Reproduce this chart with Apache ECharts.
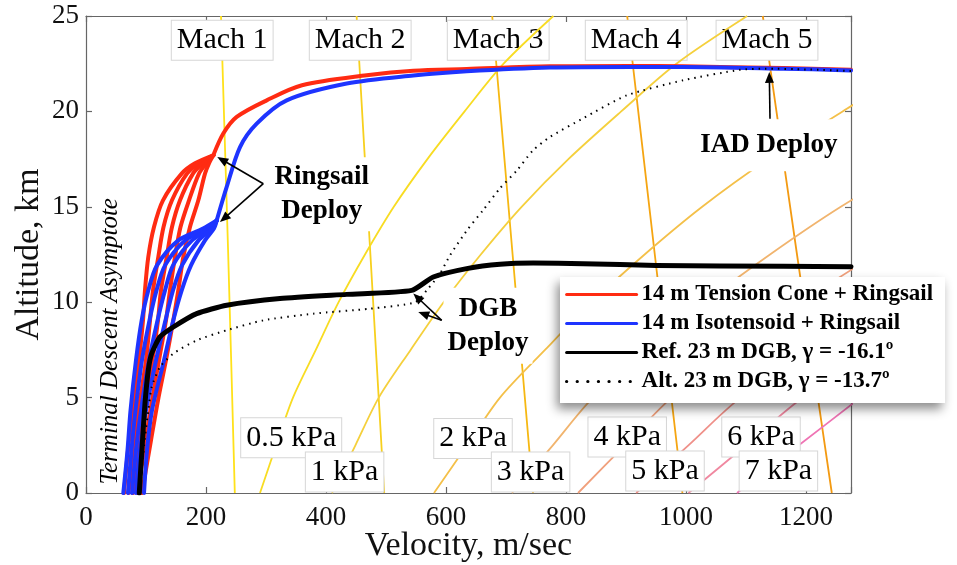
<!DOCTYPE html>
<html><head><meta charset="utf-8">
<script src="https://cdn.jsdelivr.net/npm/echarts@6/dist/echarts.min.js"></script>
<style>html,body{margin:0;padding:0;background:#fff}#c{width:957px;height:565px}</style>
</head><body><div id="c"></div>
<script>
// ---------- data (velocity m/s, altitude km) ----------
const xTicks = [0, 200, 400, 600, 800, 1000, 1200];
const altGrid = [0, 2.5, 5, 7.5, 10, 12.5, 15, 17.5, 20, 22.5, 25];
const q05 = [290, 317, 345, 383, 421, 465, 513, 569, 631, 696, 779];
const q1 = [410, 449, 488, 541, 596, 658, 726, 804, 892, 984, 1102];
const q2 = [580, 635, 690, 765, 843, 931, 1027, 1137, 1261, 1392, 1558];
const q3 = [710, 778, 845, 937, 1032, 1140, 1258, 1393];
const q4 = [820, 898, 976, 1082, 1192, 1316];
const q5 = [917, 1004, 1091, 1210, 1333];
const q6 = [1004, 1100, 1195, 1325];
const q7 = [1085, 1188, 1291];
const qNames = ['0.5 kPa', '1 kPa', '2 kPa', '3 kPa', '4 kPa', '5 kPa', '6 kPa', '7 kPa'];
const qLabelV = [342, 431, 645, 741, 902, 965, 1125, 1154];
const qLabelAlt = [2.89, 1.10, 2.85, 1.10, 2.94, 1.15, 2.94, 1.15];

const machAlt = [0, 12.5, 25];
const mach1 = [248, 237, 225];
const mach2 = [497, 474, 451];
const mach3 = [745, 711, 677];
const mach4 = [994, 948, 902];
const mach5 = [1243, 1185, 1128];
const machNames = ['Mach 1', 'Mach 2', 'Mach 3', 'Mach 4', 'Mach 5'];
const machLabelV = [227, 457, 687, 917, 1135];
const machLabelAlt = 23.73;

const redMainV = [1275, 1162, 995, 907, 773, 634.5, 545.5, 467.8, 360, 301.2, 251.2, 228.8, 212.2];
const redMainAlt = [22.18, 22.27, 22.36, 22.38, 22.36, 22.22, 22.13, 21.89, 21.37, 20.58, 19.71, 18.84, 17.70];
const redFanAlt = [17.70, 17.28, 16.74, 15.34, 13.94, 12.37, 10.62, 9.05, 6.96, 4.86, 2.76, 0];
const red1 = [212.2, 181.7, 159.5, 128.3, 113.3, 103.8, 98.3, 95, 88.3, 80, 71.7, 63.3];
const red2 = [212.2, 188.3, 168.3, 143.3, 129.2, 120.5, 111.7, 106.7, 100, 90, 80.8, 70.8];
const red3 = [212.2, 195, 178.3, 156.7, 143.3, 134.5, 125, 120, 110.8, 100, 90, 78.3];
const red4 = [212.2, 200.8, 188.3, 171.7, 157.5, 148.3, 140, 133.3, 121.7, 110, 99.2, 85.8];
const red5 = [212.2, 205, 198.3, 187.2, 173.3, 162.2, 153.8, 145.5, 133.3, 120, 108.3, 93.3];

const blueMainV = [1275, 1162, 995, 907, 773, 634.5, 545.5, 434.5, 334.5, 284.5, 256.7, 234.5, 217.8];
const blueMainAlt = [22.15, 22.24, 22.33, 22.33, 22.3, 22.1, 21.88, 21.46, 20.58, 19.36, 18.13, 16.04, 14.28];
const blueFanAlt = [14.28, 13.86, 13.24, 11.93, 10.62, 9.05, 6.96, 4.33, 2.24, 0];
const blue1 = [217.8, 195, 153.8, 118.3, 103.8, 92.8, 83.3, 74.2, 69.2, 62.2];
const blue2 = [217.8, 201.7, 165, 131.7, 117.5, 105.8, 93.3, 82.5, 75.8, 70];
const blue3 = [217.8, 206.7, 176.7, 145, 131.7, 119.2, 105, 91.7, 83.3, 76.7];
const blue4 = [217.8, 210.8, 187.5, 160, 145, 132.5, 116.7, 100, 90, 83.3];
const blue5 = [217.8, 213.3, 198.3, 175, 159.5, 145.5, 130, 110, 101.7, 96.7];

const refV = [1275, 1162, 951, 829, 745.5, 690, 634.5, 578.8, 542.8, 434.5, 323.3, 234.5, 184.5, 145.5, 123.3, 109.5, 103.8, 98.3, 92.8, 88.8];
const refAlt = [11.86, 11.88, 11.93, 12.02, 12.05, 11.99, 11.76, 11.32, 10.62, 10.41, 10.19, 9.84, 9.40, 8.70, 8.18, 7.31, 6.43, 4.69, 2.06, 0];
const altDgbV = [1275, 1200, 1131.7, 1090, 995.5, 901.2, 828.8, 773.3, 745, 718.3, 690, 661.7, 635, 606.7, 590, 567.8, 548.3, 473.3, 378.8, 295.5, 234.5, 184.5, 145.5, 123.3, 109.5, 103.8, 98.3, 92.8, 90];
const altDgbAlt = [22.12, 22.2, 22.24, 22.18, 21.63, 20.84, 19.64, 18.66, 17.96, 16.91, 15.97, 14.82, 13.77, 12.46, 11.50, 10.62, 9.99, 9.66, 9.40, 9.05, 8.53, 8.00, 7.31, 6.60, 5.56, 4.33, 2.94, 1.19, 0];

const legendNames = ['14 m Tension Cone + Ringsail', '14 m Isotensoid + Ringsail', 'Ref. 23 m DGB, \u03b3 = -16.1\u00ba', 'Alt. 23 m DGB, \u03b3 = -13.7\u00ba'];

// ---------- styling ----------
const FONT = '"Liberation Serif", "Times New Roman", serif';
const machColors = ['#FFE11A', '#F7D01E', '#F6B812', '#F5A512', '#F39A12'];
const qColors = ['#F8DC22', '#F5D03C', '#F4C049', '#F1B46E', '#F0A07C', '#EF9089', '#F088A0', '#EF74B4'];
const RED = '#FF2B12', BLUE = '#1E34FF';

function pairs(vs, alts) { return vs.map((v, i) => [v, alts[i]]); }
function thin(name, data, color, z) {
  return { type: 'line', name, data, z, symbol: 'none', silent: true, smooth: 0.3,
    lineStyle: { color, width: 1.8 }, itemStyle: { color }, animation: false };
}
function traj(name, data, color, width, z, extra) {
  return Object.assign({ type: 'line', name, data, z, symbol: 'none', silent: true, smooth: 0.3,
    lineStyle: { color, width, cap: 'round', join: 'round' }, itemStyle: { color }, animation: false }, extra || {});
}

const series = [];
[mach1, mach2, mach3, mach4, mach5].forEach((m, i) => series.push(thin(machNames[i], pairs(m, machAlt), machColors[i], 2)));
[q05, q1, q2, q3, q4, q5, q6, q7].forEach((q, i) => series.push(thin(qNames[i], pairs(q, altGrid), qColors[i], 4)));
series.push(traj(legendNames[0], pairs(redMainV, redMainAlt), RED, 4, 6));
[red1, red2, red3, red4, red5].forEach(r => series.push(traj(legendNames[0], pairs(r, redFanAlt), RED, 4, 6)));
series.push(traj(legendNames[1], pairs(blueMainV, blueMainAlt), BLUE, 4, 6));
[blue1, blue2, blue3, blue4, blue5].forEach(b => series.push(traj(legendNames[1], pairs(b, blueFanAlt), BLUE, 4, 6)));
series.push(traj(legendNames[2], pairs(refV, refAlt), '#000', 5, 6, { smooth: 0.2 }));
series.push(traj(legendNames[3], pairs(altDgbV, altDgbAlt), '#000', 2, 7, { smooth: 0.2, lineStyle: { color: '#000', width: 2, type: [1.5, 5], cap: 'butt' } }));

const axisCommon = {
  type: 'value', min: 0, splitLine: { show: false },
  axisLine: { show: true, onZero: false, lineStyle: { color: '#666', width: 1.2 } },
  axisTick: { show: true, inside: true, length: 6, lineStyle: { color: '#666', width: 1.2 } }
};

const option = {
  animation: false,
  backgroundColor: '#fff',
  grid: { left: 86, right: 106, top: 16, bottom: 72, containLabel: false, outerBoundsMode: 'none' },
  xAxis: [
    Object.assign({}, axisCommon, { max: 1275, interval: 200, position: 'bottom',
      axisLabel: { fontFamily: FONT, fontSize: 27, color: '#111', margin: 11,
        formatter: v => (xTicks.indexOf(v) >= 0 ? String(v) : ''), hideOverlap: false },
      name: 'Velocity, m/sec', nameLocation: 'middle', nameGap: 36, nameMoveOverlap: false,
      nameTextStyle: { fontFamily: FONT, fontSize: 34, color: '#111' } }),
    Object.assign({}, axisCommon, { max: 1275, interval: 200, position: 'top', axisLabel: { show: false } })
  ],
  yAxis: [
    Object.assign({}, axisCommon, { max: 25, interval: 5, position: 'left',
      axisLabel: { fontFamily: FONT, fontSize: 27, color: '#111', margin: 7, hideOverlap: false },
      name: 'Altitude, km', nameLocation: 'middle', nameGap: 40, nameMoveOverlap: false,
      nameTextStyle: { fontFamily: FONT, fontSize: 34, color: '#111' } }),
    Object.assign({}, axisCommon, { max: 25, interval: 5, position: 'right', axisLabel: { show: false } })
  ],
  legend: {
    data: [legendNames[0], legendNames[1], legendNames[2],
      { name: legendNames[3], lineStyle: { width: 3.2, type: [0.1, 10.5], cap: 'round' } }],
    orient: 'vertical', left: 560, top: 277, z: 10, selectedMode: false,
    itemWidth: 70, itemHeight: 12, itemGap: 4, padding: [5, 12, 9, 5],
    backgroundColor: '#fff', shadowBlur: 10, shadowColor: 'rgba(0,0,0,0.45)', shadowOffsetX: -3, shadowOffsetY: 6,
    lineStyle: { width: 3 },
    itemStyle: { opacity: 0 },
    textStyle: { fontFamily: FONT, fontWeight: 'bold', fontSize: 23, color: '#000', lineHeight: 25 }
  },
  series
};

const chart = echarts.init(document.getElementById('c'), null, { renderer: 'canvas' });
chart.setOption(option);

function P(v, a) { return chart.convertToPixel({ xAxisIndex: 0, yAxisIndex: 0 }, [v, a]); }

const g = [];
machNames.forEach((t, i) => {
  const p = P(machLabelV[i], machLabelAlt);
  g.push({ type: 'text', z: 3, x: p[0], y: p[1], silent: true,
    style: { text: t, font: '30px ' + FONT, fill: '#000', align: 'center', verticalAlign: 'middle',
      backgroundColor: '#fff', borderColor: '#d6d6d6', borderWidth: 1, padding: [5, 5, 4, 5] } });
});
qNames.forEach((t, i) => {
  const p = P(qLabelV[i], qLabelAlt[i]);
  g.push({ type: 'text', z: 5, x: p[0], y: p[1], silent: true,
    style: { text: t, font: '30px ' + FONT, fill: '#000', align: 'center', verticalAlign: 'middle',
      backgroundColor: '#fff', borderColor: '#d6d6d6', borderWidth: 1, padding: [5, 5, 4, 5] } });
});
const notes = [
  { text: 'Ringsail\nDeploy', v: 393, a: 15.66, pad: [3, 4, 3, 4] },
  { text: 'DGB\nDeploy', v: 670, a: 8.77, pad: [4, 4, 4, 4] },
  { text: 'IAD Deploy', v: 1138, a: 18.22, pad: [12, 4, 6, 4] }
];
notes.forEach(n => {
  const p = P(n.v, n.a);
  g.push({ type: 'text', z: 7, x: p[0], y: p[1], silent: true,
    style: { text: n.text, font: 'bold 27px ' + FONT, fill: '#000', align: 'center', verticalAlign: 'middle',
      lineHeight: 34, backgroundColor: '#fff', padding: n.pad } });
});
{
  const p = P(40, 7.95);
  g.push({ type: 'text', z: 7, x: p[0], y: p[1], rotation: Math.PI / 2, silent: true,
    style: { text: 'Terminal Descent Asymptote', font: 'italic 25px ' + FONT, fill: '#000', align: 'center', verticalAlign: 'middle' } });
}
const arrows = [
  [295.5, 16.21, 218.8, 17.61],
  [295.5, 16.21, 223.3, 14.20],
  [592.8, 9.05, 545.5, 10.45],
  [592.8, 9.05, 553.8, 9.49],
  [1140, 19.62, 1138.8, 22.07]
];
arrows.forEach(a => {
  const s = P(a[0], a[1]), e = P(a[2], a[3]);
  const dx = e[0] - s[0], dy = e[1] - s[1], L = Math.hypot(dx, dy);
  const ux = dx / L, uy = dy / L, nx = -uy, ny = ux, hl = 11, hw = 4.5;
  const bx = e[0] - ux * hl, by = e[1] - uy * hl;
  g.push({ type: 'line', z: 8, silent: true, shape: { x1: s[0], y1: s[1], x2: bx + ux * 2, y2: by + uy * 2 },
    style: { stroke: '#000', lineWidth: 1.6 } });
  g.push({ type: 'polygon', z: 8, silent: true, shape: { points: [[e[0], e[1]], [bx + nx * hw, by + ny * hw], [bx - nx * hw, by - ny * hw]] },
    style: { fill: '#000' } });
});
chart.setOption({ graphic: g });
</script>
</body></html>
